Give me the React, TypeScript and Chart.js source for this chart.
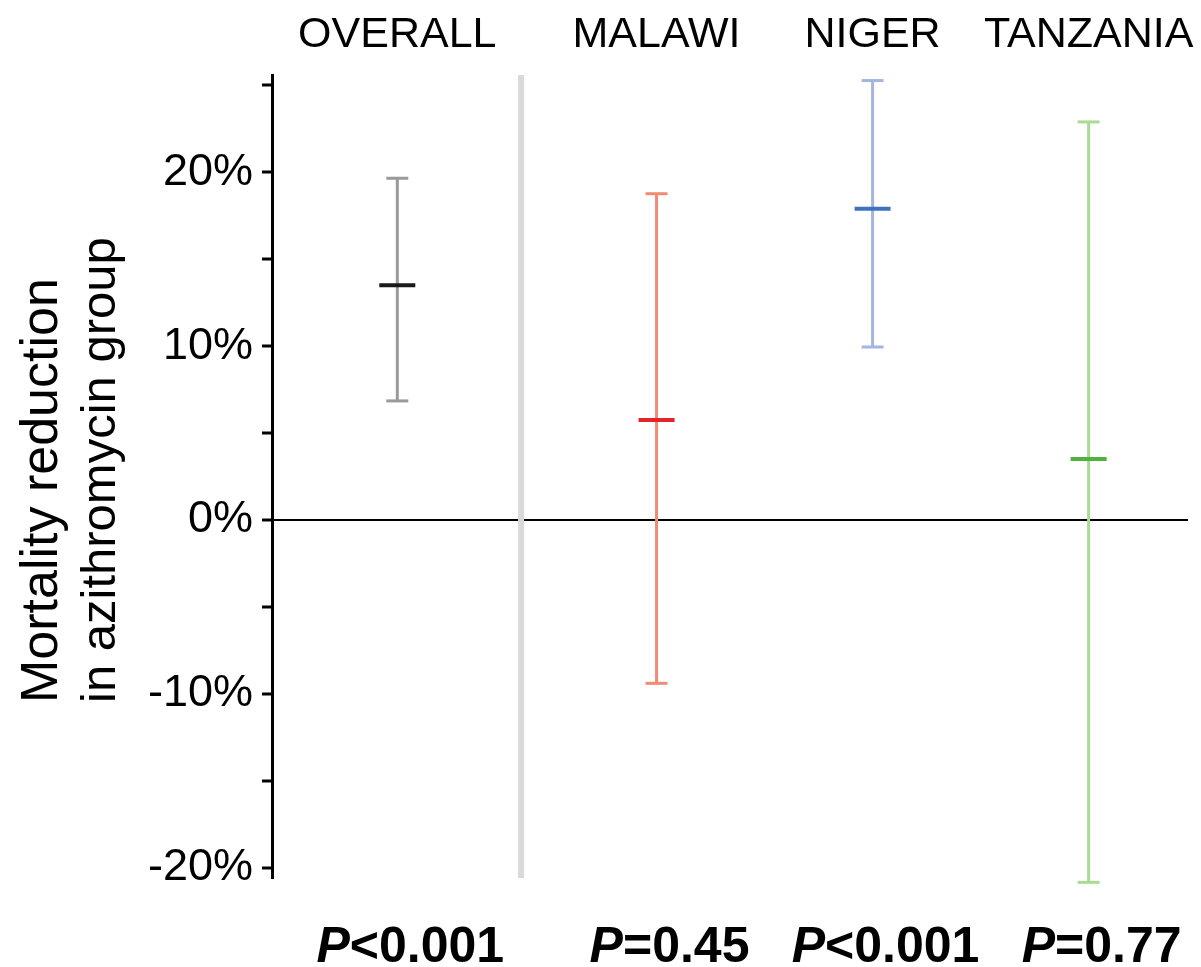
import React, { useEffect, useRef } from 'react';
import { Chart, registerables } from 'chart.js';

Chart.register(...registerables);

const FONT = "'Liberation Sans', Helvetica, Arial, sans-serif";

// ---- data ----
const groups = ['OVERALL', 'MALAWI', 'NIGER', 'TANZANIA'];
const groupX = [0.58, 1.78, 2.78, 3.78];
const dividerX = 1.153;
const estimates = [13.5, 5.75, 17.9, 3.5];
const lowerCI = [6.85, -9.4, 9.95, -20.85];
const upperCI = [19.66, 18.77, 25.28, 22.9];
const pPrefix = ['P', 'P', 'P', 'P'];
const pValues = ['<0.001', '=0.45', '<0.001', '=0.77'];
const yTicks = [-20, -15, -10, -5, 0, 5, 10, 15, 20, 25];
const yMin = -20.6;
const yMax = 25.6;
const xMin = 0;
const xMax = 4.24;
const whiskerColors = ['#9a9a9a', '#f28b74', '#a2b6e0', '#a9dc91'];
const meanColors = ['#1a1a1a', '#e3242b', '#3f73bd', '#4db33d'];
const yTitleLines = ['Mortality reduction', 'in azithromycin group'];

const annotationPlugin = {
  id: 'annotations',
  afterDraw(chart: any) {
    const { ctx, scales } = chart;
    const x = scales.x;
    ctx.save();
    ctx.fillStyle = '#000';
    ctx.textBaseline = 'alphabetic';

    // group headers
    ctx.textAlign = 'center';
    ctx.font = `43px ${FONT}`;
    groups.forEach((g, i) => {
      ctx.fillText(g, x.getPixelForValue(groupX[i]), 47);
    });

    // P-values
    ctx.textAlign = 'left';
    pValues.forEach((val, i) => {
      const italic = `italic bold 50px ${FONT}`;
      const bold = `bold 50px ${FONT}`;
      ctx.font = italic;
      const w1 = ctx.measureText(pPrefix[i]).width;
      ctx.font = bold;
      const w2 = ctx.measureText(val).width;
      const cx = x.getPixelForValue(groupX[i]) + 13;
      const left = cx - (w1 + w2) / 2;
      ctx.font = italic;
      ctx.fillText(pPrefix[i], left, 962);
      ctx.font = bold;
      ctx.fillText(val, left + w1, 962);
    });

    // y-axis title (two lines, rotated)
    ctx.textAlign = 'left';
    const baselines = [57, 115];
    const sizes = [52, 49];
    yTitleLines.forEach((line, i) => {
      ctx.save();
      ctx.font = `${sizes[i]}px ${FONT}`;
      ctx.translate(baselines[i], 703);
      ctx.rotate(-Math.PI / 2);
      ctx.fillText(line, 0, 0);
      ctx.restore();
    });
    ctx.restore();
  },
};

export default function App() {
  const canvasRef = useRef<HTMLCanvasElement | null>(null);

  useEffect(() => {
    if (!canvasRef.current) return;
    const datasets: any[] = [];
    groups.forEach((g, i) => {
      datasets.push({
        label: `${g} estimate`,
        data: [{ x: groupX[i], y: estimates[i] }],
        pointStyle: 'line',
        pointRadius: 18,
        pointHoverRadius: 18,
        pointBorderWidth: 4,
        pointBorderColor: meanColors[i],
        pointBackgroundColor: meanColors[i],
        showLine: false,
        order: 0,
        clip: false,
      });
      datasets.push({
        label: `${g} CI caps`,
        data: [
          { x: groupX[i], y: lowerCI[i] },
          { x: groupX[i], y: upperCI[i] },
        ],
        pointStyle: 'line',
        pointRadius: 11,
        pointHoverRadius: 11,
        pointBorderWidth: 3,
        pointBorderColor: whiskerColors[i],
        pointBackgroundColor: whiskerColors[i],
        showLine: false,
        order: 1,
        clip: false,
      });
      datasets.push({
        label: `${g} CI`,
        data: [
          { x: groupX[i], y: lowerCI[i] },
          { x: groupX[i], y: upperCI[i] },
        ],
        showLine: true,
        borderColor: whiskerColors[i],
        borderWidth: 3,
        pointRadius: 0,
        pointHoverRadius: 0,
        order: 2,
        clip: false,
      });
    });
    datasets.push({
      label: 'divider',
      data: [
        { x: dividerX, y: yMin },
        { x: dividerX, y: yMax },
      ],
      showLine: true,
      borderColor: '#d9d9d9',
      borderWidth: 6,
      pointRadius: 0,
      pointHoverRadius: 0,
      order: 3,
    });

    const chart = new Chart(canvasRef.current, {
      type: 'scatter',
      data: { datasets },
      options: {
        animation: false,
        responsive: false,
        layout: { autoPadding: false, padding: { top: 75, bottom: 89, right: 13, left: 0 } },
        plugins: {
          legend: { display: false },
          tooltip: { enabled: false },
        },
        events: [],
        scales: {
          x: {
            type: 'linear',
            display: false,
            min: xMin,
            max: xMax,
          },
          y: {
            type: 'linear',
            min: yMin,
            max: yMax,
            afterBuildTicks: (s: any) => {
              s.ticks = yTicks.map((v) => ({ value: v }));
            },
            afterFit: (s: any) => {
              s.width = 272;
            },
            ticks: {
              autoSkip: false,
              padding: 9,
              color: '#000',
              font: { family: FONT, size: 45 },
              callback: (v: any) => (Number(v) % 10 === 0 ? `${v}%` : ''),
            },
            grid: {
              color: (c: any) => (c.tick && c.tick.value === 0 ? '#000' : 'rgba(0,0,0,0)'),
              lineWidth: 2,
              tickColor: '#000',
              tickWidth: 3,
              tickLength: 10,
              drawTicks: true,
            },
            border: { display: true, color: '#000', width: 3 },
          },
        },
      },
      plugins: [annotationPlugin],
    });
    return () => chart.destroy();
  }, []);

  return (
    <div style={{ position: 'absolute', left: 0, top: 0, width: 1201, height: 967, background: '#fff' }}>
      <canvas ref={canvasRef} width={1201} height={967} />
    </div>
  );
}
